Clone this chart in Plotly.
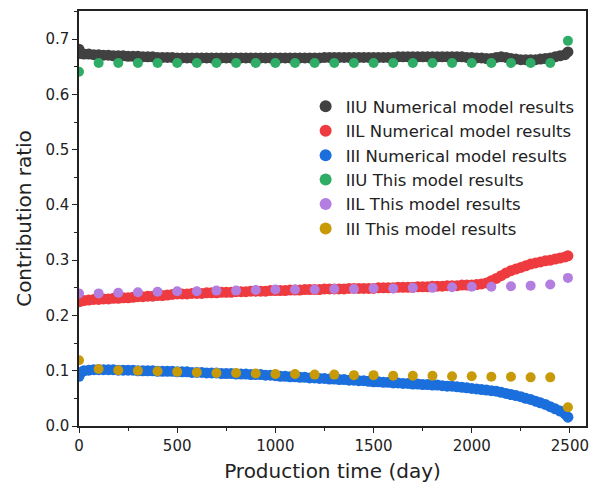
import plotly.graph_objects as go

# Dense "numerical model" samples (days)
num_days = [0, 10] + list(range(25, 2500, 25)) + [2490]

iiu_num = [0.682, 0.674, 0.673, 0.673, 0.672,
           0.672, 0.671, 0.671, 0.670,
           0.670, 0.670, 0.669, 0.669,
           0.669, 0.668, 0.668, 0.668,
           0.667, 0.667, 0.667, 0.667,
           0.666, 0.666, 0.666, 0.666,
           0.666, 0.666, 0.666, 0.666,
           0.666, 0.666, 0.666, 0.666,
           0.666, 0.666, 0.666, 0.666,
           0.666, 0.666, 0.666, 0.666,
           0.666, 0.666, 0.666, 0.666,
           0.666, 0.666, 0.666, 0.666,
           0.666, 0.666, 0.667, 0.667,
           0.667, 0.667, 0.667, 0.667,
           0.667, 0.667, 0.667, 0.667,
           0.667, 0.667, 0.667, 0.667,
           0.667, 0.668, 0.668, 0.668,
           0.668, 0.668, 0.668, 0.668,
           0.668, 0.668, 0.668, 0.668,
           0.668, 0.668, 0.668, 0.667,
           0.667, 0.666, 0.666, 0.665,
           0.665, 0.667, 0.668, 0.667,
           0.665, 0.664, 0.663, 0.663,
           0.663, 0.663, 0.664, 0.665,
           0.666, 0.668, 0.670, 0.672,
           0.677]

iil_num = [0.225, 0.226, 0.227, 0.228, 0.229,
           0.229, 0.230, 0.230, 0.231,
           0.231, 0.232, 0.232, 0.233,
           0.234, 0.234, 0.235, 0.235,
           0.236, 0.236, 0.237, 0.238,
           0.239, 0.239, 0.239, 0.240,
           0.240, 0.240, 0.241, 0.241,
           0.241, 0.242, 0.242, 0.242,
           0.243, 0.243, 0.243, 0.244,
           0.244, 0.244, 0.244, 0.245,
           0.245, 0.245, 0.245, 0.246,
           0.246, 0.246, 0.247, 0.247,
           0.247, 0.247, 0.248, 0.248,
           0.248, 0.248, 0.248, 0.249,
           0.249, 0.249, 0.249, 0.249,
           0.249, 0.250, 0.250, 0.250,
           0.250, 0.251, 0.251, 0.251,
           0.251, 0.252, 0.252, 0.252,
           0.253, 0.253, 0.253, 0.254,
           0.254, 0.254, 0.255, 0.255,
           0.255, 0.256, 0.257, 0.259,
           0.263, 0.267, 0.272, 0.277,
           0.281, 0.284, 0.287, 0.290,
           0.293, 0.295, 0.297, 0.299,
           0.300, 0.302, 0.304, 0.306,
           0.308]

iii_num = [0.090, 0.097, 0.100, 0.101, 0.102,
           0.102, 0.102, 0.102, 0.102,
           0.101, 0.101, 0.101, 0.101,
           0.100, 0.100, 0.100, 0.100,
           0.099, 0.099, 0.099, 0.099,
           0.098, 0.098, 0.098, 0.097,
           0.097, 0.097, 0.096, 0.096,
           0.096, 0.095, 0.095, 0.095,
           0.094, 0.094, 0.094, 0.093,
           0.093, 0.093, 0.092, 0.092,
           0.091, 0.090, 0.090, 0.089,
           0.089, 0.088, 0.088, 0.087,
           0.087, 0.086, 0.086, 0.085,
           0.085, 0.084, 0.084, 0.083,
           0.083, 0.082, 0.082, 0.081,
           0.080, 0.080, 0.079, 0.079,
           0.078, 0.078, 0.077, 0.077,
           0.076, 0.076, 0.075, 0.075,
           0.074, 0.074, 0.073, 0.072,
           0.072, 0.071, 0.070, 0.069,
           0.068, 0.067, 0.066, 0.065,
           0.064, 0.063, 0.061, 0.059,
           0.057, 0.055, 0.053, 0.050,
           0.048, 0.045, 0.042, 0.039,
           0.035, 0.031, 0.027, 0.022,
           0.016]

# "This model" results
model_days = [0, 100, 200, 300, 400, 500, 600, 700, 800, 900, 1000, 1100, 1200,
              1300, 1400, 1500, 1600, 1700, 1800, 1900, 2000, 2100, 2200, 2300, 2400, 2490]
iiu_model = [0.641, 0.657, 0.657, 0.657, 0.657, 0.657, 0.657, 0.657, 0.657, 0.657,
             0.657, 0.657, 0.657, 0.657, 0.657, 0.657, 0.657, 0.657, 0.657, 0.657,
             0.657, 0.657, 0.657, 0.657, 0.657, 0.697]
iil_model = [0.240, 0.240, 0.241, 0.242, 0.243, 0.244, 0.244, 0.245, 0.245, 0.246,
             0.247, 0.247, 0.247, 0.248, 0.248, 0.249, 0.249, 0.250, 0.250, 0.251,
             0.252, 0.252, 0.253, 0.254, 0.256, 0.268]
iii_model = [0.119, 0.103, 0.101, 0.100, 0.099, 0.098, 0.097, 0.096, 0.096, 0.095,
             0.094, 0.094, 0.093, 0.093, 0.092, 0.092, 0.091, 0.091, 0.091, 0.090,
             0.090, 0.089, 0.089, 0.088, 0.088, 0.034]

FONT = "DejaVu Sans, Liberation Sans, Arial, sans-serif"

fig = go.Figure()
num_series = [
    ("IIU Numerical model results", iiu_num, "#414141"),
    ("IIL Numerical model results", iil_num, "#ee3b3f"),
    ("III Numerical model results", iii_num, "#1b6fdd"),
]
for name, vals, col in num_series:
    fig.add_trace(go.Scatter(x=num_days, y=vals, mode="markers", name=name,
                             marker=dict(size=11, color=col, line=dict(width=0))))
model_series = [
    ("IIU This model results", iiu_model, "#2fac66"),
    ("IIL This model results", iil_model, "#b37ee0"),
    ("III This model results", iii_model, "#c99a08"),
]
for name, vals, col in model_series:
    fig.add_trace(go.Scatter(x=model_days, y=vals, mode="markers", name=name,
                             marker=dict(size=10, color=col, line=dict(width=0))))

axis_common = dict(
    showgrid=False, zeroline=False, showline=True, linecolor="#222", linewidth=1.5,
    mirror=True, ticks="outside", ticklen=5, tickwidth=1.2, tickcolor="#222",
    tickfont=dict(family=FONT, size=15, color="#222"),
    minor=dict(ticks="outside", ticklen=3, tickwidth=1, tickcolor="#222"),
)
fig.update_xaxes(range=[0, 2582], tickvals=[0, 500, 1000, 1500, 2000, 2500],
                 minor_dtick=250,
                 title=dict(text="Production time (day)", font=dict(family=FONT, size=20, color="#222"),
                            standoff=10),
                 **axis_common)
fig.update_yaxes(range=[0, 0.751], tickvals=[0.0, 0.1, 0.2, 0.3, 0.4, 0.5, 0.6, 0.7],
                 ticktext=["0.0", "0.1", "0.2", "0.3", "0.4", "0.5", "0.6", "0.7"],
                 minor_dtick=0.05,
                 title=dict(text="Contribution ratio", font=dict(family=FONT, size=20, color="#222"),
                            standoff=8),
                 **axis_common)

fig.update_layout(
    width=593, height=489,
    margin=dict(l=79, r=4, t=11, b=63),
    plot_bgcolor="white", paper_bgcolor="white",
    font=dict(family=FONT, color="#222"),
    legend=dict(x=0.447, y=0.812, xanchor="left", yanchor="top",
                font=dict(family=FONT, size=16.5, color="#222"),
                bgcolor="rgba(0,0,0,0)", tracegroupgap=0, itemsizing="constant"),
)

fig.write_html("out.html")
